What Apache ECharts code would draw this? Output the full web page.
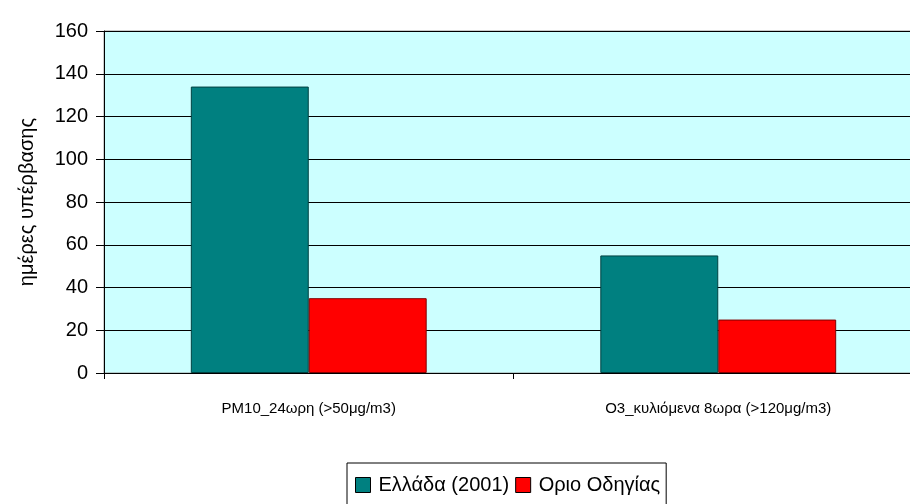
<!DOCTYPE html>
<html>
<head>
<meta charset="utf-8">
<script src="https://cdn.jsdelivr.net/npm/echarts@6/dist/echarts.min.js"></script>
<style>
html,body{margin:0;padding:0;background:#fff;overflow:hidden;}
#c{width:923px;height:504px;}
</style>
</head>
<body>
<div id="c"></div>
<script>
var categories = ['PM10_24ωρη (>50μg/m3)', 'O3_κυλιόμενα 8ωρα (>120μg/m3)'];
var seriesNames = ['Ελλάδα (2001)', 'Οριο Οδηγίας'];
var greeceValues = [134, 55];
var limitValues = [35, 25];
var yTicks = [0, 20, 40, 60, 80, 100, 120, 140, 160];

var font = '"Liberation Sans", Arial, sans-serif';
var chart = echarts.init(document.getElementById('c'), null, {renderer: 'canvas'});
chart.setOption({
  animation: false,
  backgroundColor: '#ffffff',
  textStyle: {fontFamily: font},
  grid: {
    left: 104, top: 31, right: 0, bottom: 131,
    show: true, backgroundColor: '#CCFFFF', borderColor: '#999999', borderWidth: 1
  },
  legend: {
    left: 347, top: 463,
    padding: [12, 6, 16, 8],
    borderColor: '#000', borderWidth: 1,
    itemWidth: 15, itemHeight: 15, itemGap: 6,
    icon: 'rect',
    itemStyle: {borderColor: '#000', borderWidth: 1},
    textStyle: {fontFamily: font, fontSize: 20, color: '#000', padding: [0, 0, 0, 3]},
    data: seriesNames
  },
  xAxis: {
    type: 'category',
    data: categories,
    axisLine: {lineStyle: {color: '#000', width: 1}},
    axisTick: {show: true, length: 6, lineStyle: {color: '#000'}},
    axisLabel: {fontFamily: font, fontSize: 15, color: '#000', margin: 28}
  },
  yAxis: {
    type: 'value',
    min: yTicks[0], max: yTicks[yTicks.length - 1], interval: 20,
    name: 'ημέρες υπέρβασης',
    nameLocation: 'middle',
    nameGap: 67,
    nameRotate: 90,
    nameTextStyle: {fontFamily: font, fontSize: 20, color: '#000'},
    axisLine: {show: true, lineStyle: {color: '#000', width: 1}},
    axisTick: {show: true, length: 8, lineStyle: {color: '#000'}},
    axisLabel: {fontFamily: font, fontSize: 20, color: '#000', margin: 16},
    splitLine: {show: true, lineStyle: {color: '#000', width: 1.2}}
  },
  series: [
    {
      name: seriesNames[0], type: 'bar', data: greeceValues,
      barGap: '0%', barCategoryGap: '42.4%',
      itemStyle: {color: '#008080', borderColor: '#004040', borderWidth: 1}
    },
    {
      name: seriesNames[1], type: 'bar', data: limitValues,
      barGap: '0%', barCategoryGap: '42.4%',
      itemStyle: {color: '#FF0000', borderColor: '#800000', borderWidth: 1}
    }
  ]
});
</script>
</body>
</html>
